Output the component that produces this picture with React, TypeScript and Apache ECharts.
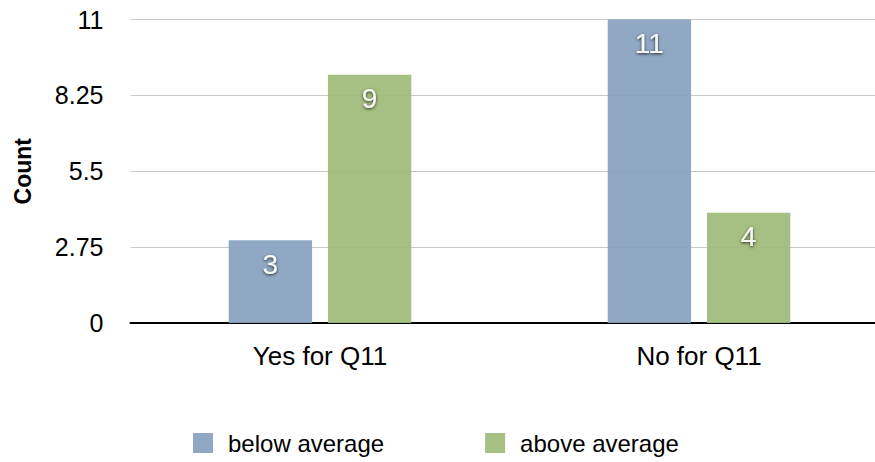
import React, { useEffect, useRef } from "react";
import * as echarts from "echarts";

const categories = ["Yes for Q11", "No for Q11"];
const belowAverage = [3, 11];
const aboveAverage = [9, 4];
const seriesNames = ["below average", "above average"];
const yMin = 0;
const yMax = 11;
const yInterval = 2.75;

const FONT = "'Liberation Sans', Arial, Helvetica, sans-serif";
const BLUE = "rgb(136,161,190)";
const GREEN = "rgb(158,187,120)";

const barLabel = {
  show: true,
  position: "insideTop" as const,
  distance: 10,
  color: "#ffffff",
  fontSize: 28,
  fontFamily: FONT,
  textShadowColor: "rgba(0,0,0,0.85)",
  textShadowBlur: 3,
  textShadowOffsetX: 0,
  textShadowOffsetY: 1,
};

export default function App() {
  const ref = useRef<HTMLDivElement>(null);

  useEffect(() => {
    if (!ref.current) return;
    const chart = echarts.init(ref.current, undefined, { renderer: "svg" });
    chart.setOption({
      animation: false,
      backgroundColor: "#ffffff",
      textStyle: { fontFamily: FONT },
      grid: {
        left: 130.5,
        right: -13.5,
        top: 19.5,
        bottom: 139,
        containLabel: false,
        outerBoundsMode: "none",
      },
      legend: {
        left: 193,
        top: 431,
        padding: 0,
        icon: "rect",
        itemWidth: 20,
        itemHeight: 20,
        itemGap: 101,
        textStyle: {
          fontSize: 24,
          color: "#000",
          fontFamily: FONT,
          padding: [0, 0, 0, 10],
        },
        data: seriesNames,
      },
      xAxis: {
        type: "category",
        data: categories,
        axisLine: { show: true, lineStyle: { color: "#000", width: 2 } },
        axisTick: { show: false },
        axisLabel: { color: "#000", fontSize: 26, margin: 20, fontFamily: FONT },
        splitLine: { show: false },
      },
      yAxis: {
        type: "value",
        min: yMin,
        max: yMax,
        interval: yInterval,
        name: "Count",
        nameLocation: "middle",
        nameRotate: 90,
        nameGap: 96,
        nameTextStyle: { fontSize: 23, fontWeight: "bold", color: "#000", fontFamily: FONT },
        axisLine: { show: false },
        axisTick: { show: false },
        axisLabel: { color: "#000", fontSize: 25, margin: 27, fontFamily: FONT },
        splitLine: { lineStyle: { color: "#c8c8c8", width: 1 } },
      },
      series: [
        {
          name: seriesNames[0],
          type: "bar",
          data: belowAverage,
          barWidth: "22%",
          barGap: "19%",
          itemStyle: { color: BLUE, opacity: 0.93 },
          label: barLabel,
        },
        {
          name: seriesNames[1],
          type: "bar",
          data: aboveAverage,
          barWidth: "22%",
          itemStyle: { color: GREEN, opacity: 0.93 },
          label: barLabel,
        },
      ],
    });
    return () => chart.dispose();
  }, []);

  return (
    <div
      ref={ref}
      style={{ position: "fixed", left: 0, top: 0, width: 875, height: 462 }}
    />
  );
}
